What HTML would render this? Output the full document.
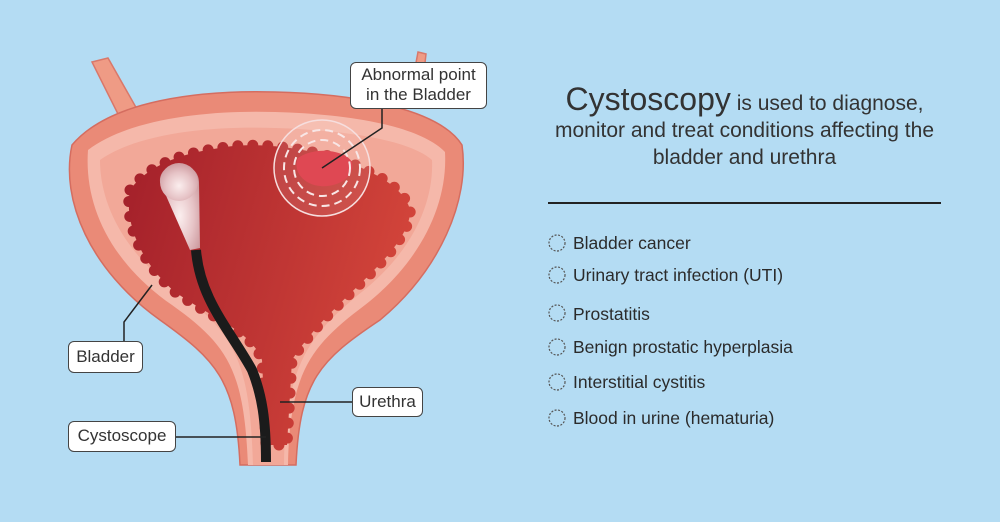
<!DOCTYPE html>
<html><head><meta charset="utf-8"><style>
html,body{margin:0;padding:0;}
body{width:1000px;height:522px;background:#b4dcf3;position:relative;overflow:hidden;font-family:"Liberation Sans",sans-serif;color:#2b2b2b;}
.t{position:absolute;white-space:nowrap;}
.lab{position:absolute;background:#fff;border:1.5px solid #444;border-radius:6px;font-size:17px;text-align:center;line-height:20px;box-sizing:border-box;color:#333;}
</style></head><body>
<svg width="1000" height="522" style="position:absolute;left:0;top:0">
<defs>
<linearGradient id="lum" x1="0" y1="0" x2="1" y2="0.3">
<stop offset="0" stop-color="#a3202a"/><stop offset="1" stop-color="#d2443a"/></linearGradient>
<radialGradient id="bulb" cx="0.5" cy="0.6" r="0.7">
<stop offset="0" stop-color="#fbeeee"/><stop offset="0.5" stop-color="#e6c3c6"/><stop offset="1" stop-color="#c48b90"/></radialGradient>
</defs>
<path d="M92,62 L108,58 L142,118 L124,126 Z" fill="#ef9b85" stroke="#d9786a" stroke-width="1.5"/>
<path d="M418,52 L426,54 L420,108 L408,106 Z" fill="#ef9b85" stroke="#d9786a" stroke-width="1.5"/>
<path d="M72,145 C110,100 200,90 275,92 C360,94 440,110 462,145 C470,200 440,270 380,320 C320,360 300,380 296,465 L240,465 C236,380 216,360 160,320 C90,270 60,200 72,145 Z" fill="#ea8a77" stroke="#d56d60" stroke-width="1.5"/>
<path d="M88,150 C130,118 210,110 275,112 C350,114 420,126 445,152 C448,205 420,262 365,305 C312,345 290,370 288,465 L248,465 C244,370 228,345 172,305 C110,262 84,205 88,150 Z" fill="#f5b8aa"/>
<path d="M100,160 C140,132 215,126 275,128 C345,130 410,140 432,160 C434,205 410,255 358,295 C310,335 285,365 284,465 L253,465 C250,365 236,335 182,295 C125,255 100,205 100,160 Z" fill="#f2a898"/>
<path d="M130,190 C150,162 190,152 220,148 C260,140 330,150 370,172 C400,186 412,205 410,215 C402,260 330,300 292,360 L287,445 L266,445 L262,360 C250,330 215,320 175,292 C140,262 124,222 130,190 Z" fill="url(#lum)" stroke="url(#lum)" stroke-width="11" stroke-linecap="round" stroke-dasharray="0 15"/>
<path d="M298,158 C315,146 345,150 352,162 C356,178 335,188 320,186 C305,185 292,172 298,158Z" fill="#dc3440"/>
<circle cx="322" cy="168" r="48" fill="rgba(255,255,255,0.1)" stroke="#f6dede" stroke-width="1.5"/>
<circle cx="322" cy="168" r="38" fill="none" stroke="#f8e6e6" stroke-width="2" stroke-dasharray="8 5"/>
<circle cx="322" cy="168" r="28" fill="none" stroke="#f8e6e6" stroke-width="2" stroke-dasharray="8 5"/>
<path d="M196,250 C200,300 230,330 252,370 C262,395 266,420 266,462" fill="none" stroke="#1b1b1b" stroke-width="10"/>
<path d="M160,182 C158,160 198,158 199,182 L200,248 L190,250 Z" fill="url(#bulb)"/>
<circle cx="179" cy="182" r="19" fill="url(#bulb)"/>
<g stroke="#222" stroke-width="1.5" fill="none">
<path d="M382,108 L382,128 L322,168"/>
<path d="M124,342 L124,322 L152,285"/>
<path d="M280,402 L353,402"/>
<path d="M175,437 L266,437"/>
</g>
<line x1="548" y1="203" x2="941" y2="203" stroke="#222" stroke-width="2"/>
<g fill="none" stroke="#555" stroke-width="1.2" stroke-dasharray="2 1.5">
<circle cx="557" cy="243" r="8"/><circle cx="557" cy="275" r="8"/><circle cx="557" cy="313" r="8"/>
<circle cx="557" cy="347" r="8"/><circle cx="557" cy="382" r="8"/><circle cx="557" cy="418" r="8"/>
</g>
</svg>
<div class="lab" style="left:350px;top:62px;width:137px;height:47px;padding-top:2px">Abnormal point<br>in the Bladder</div>
<div class="lab" style="left:68px;top:341px;width:75px;height:32px;line-height:29px">Bladder</div>
<div class="lab" style="left:352px;top:387px;width:71px;height:30px;line-height:27px">Urethra</div>
<div class="lab" style="left:68px;top:421px;width:108px;height:31px;line-height:28px">Cystoscope</div>
<div class="t" style="left:548px;top:86px;width:393px;text-align:center;font-size:21px;line-height:27px;color:#333"><span style="font-size:32px">Cystoscopy</span> is used to diagnose,<br>monitor and treat conditions affecting the<br>bladder and urethra</div>
<div class="t" style="left:573px;top:232px;font-size:17.5px;line-height:22px">Bladder cancer</div>
<div class="t" style="left:573px;top:264px;font-size:17.5px;line-height:22px">Urinary tract infection (UTI)</div>
<div class="t" style="left:573px;top:303px;font-size:17.5px;line-height:22px">Prostatitis</div>
<div class="t" style="left:573px;top:336px;font-size:17.5px;line-height:22px">Benign prostatic hyperplasia</div>
<div class="t" style="left:573px;top:371px;font-size:17.5px;line-height:22px">Interstitial cystitis</div>
<div class="t" style="left:573px;top:407px;font-size:17.5px;line-height:22px">Blood in urine (hematuria)</div>
</body></html>
